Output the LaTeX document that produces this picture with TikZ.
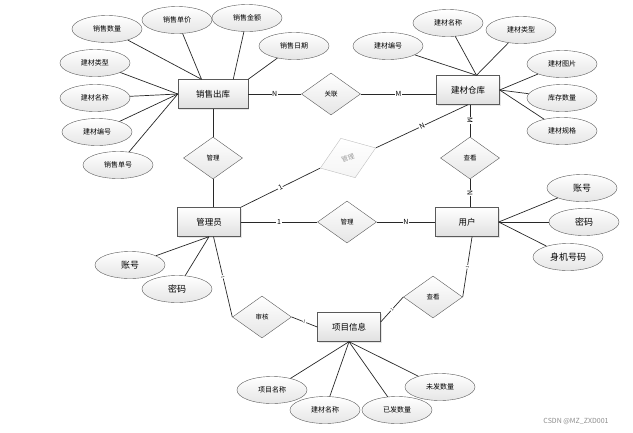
\documentclass[tikz,border=0pt]{standalone}
\usepackage{fontspec}
\setmainfont{Noto Sans CJK SC}
\usepackage{tikz}
\usetikzlibrary{shapes,shadows,calc,positioning}
\definecolor{edgecolor}{RGB}{40,40,40}
\definecolor{boxline}{RGB}{90,90,90}
\tikzstyle{entity}=[rectangle,draw=boxline,top color=white,bottom color=black!12,minimum width=63pt,minimum height=29pt,inner sep=0pt,font=\fontsize{8.5}{9}\selectfont,drop shadow={opacity=0.2,shadow xshift=1pt,shadow yshift=-1pt}]
\tikzstyle{attribute}=[ellipse,draw=boxline,top color=white,bottom color=black!10,minimum width=70pt,minimum height=27pt,inner sep=0pt,font=\fontsize{7}{8}\selectfont]
\tikzstyle{big attribute}=[attribute,font=\fontsize{9}{10}\selectfont]
\tikzstyle{relation}=[diamond,draw=boxline,top color=white,bottom color=black!10,minimum width=59pt,minimum height=42pt,inner sep=0pt,font=\fontsize{6.5}{7}\selectfont]
\tikzstyle{faded relation}=[relation,draw=black!25,top color=white,bottom color=black!4,text=black!40,rotate=20]
\tikzstyle{eredge}=[draw=edgecolor,line width=0.7pt]
\tikzstyle{card}=[fill=white,inner sep=0.6pt,font=\fontsize{7}{7}\selectfont]
\tikzstyle{tiny card}=[card,sloped,font=\fontsize{4}{4}\selectfont]

\begin{document}
\begin{tikzpicture}[x=1pt,y=-1pt]
\useasboundingbox (0,0) rectangle (633,432);

    % entities
    \node[entity,minimum width=70pt] (sale) at (213,94) {销售出库};
    \node[entity] (store) at (468,90) {建材仓库};
    \node[entity] (admin) at (209,222) {管理员};
    \node[entity] (user) at (467,222) {用户};
    \node[entity] (proj) at (349,327) {项目信息};

    % relations
    \node[relation] (link) at (331,94) {关联};
    \node[relation] (manage1) at (213,158) {管理};
    \node[faded relation] (manage2) at (348,158) {管理};
    \node[relation] (manage3) at (347,222) {管理};
    \node[relation] (view1) at (470,158) {查看};
    \node[relation] (audit) at (262,317) {审核};
    \node[relation] (view2) at (433,297) {查看};

    % attributes
    \foreach \name/\txt/\x/\y/\anc in {sa1/销售数量/107/29/128, sa2/销售单价/177/20/128,
            sa3/销售金额/247/18/36, sa4/销售日期/294/46/north east, sa5/建材类型/95/63/west,
            sa6/建材名称/95/98/west, sa7/建材编号/97/132/west, sa8/销售单号/118/165/west} {
        \node[attribute] (\name) at (\x,\y) {\txt};
        \draw[eredge] (\name) -- (sale.\anc);
    }

    \foreach \name/\txt/\x/\y/\anc in {sb1/建材编号/388/46/60, sb2/建材名称/448/23/60,
            sb3/建材类型/521/30/60, sb4/建材图片/562/64/east, sb5/库存数量/562/98/east,
            sb6/建材规格/562/131/east} {
        \node[attribute] (\name) at (\x,\y) {\txt};
        \draw[eredge] (\name) -- (store.\anc);
    }

    \foreach \name/\txt/\x/\y in {ua1/账号/582/188, ua2/密码/584/222, ua3/身机号码/568/257} {
        \node[big attribute] (\name) at (\x,\y) {\txt};
        \draw[eredge] (\name) -- (user.east);
    }

    \foreach \name/\txt/\x/\y in {aa1/账号/130/265, aa2/密码/177/289} {
        \node[big attribute] (\name) at (\x,\y) {\txt};
        \draw[eredge] (\name) -- (admin.south);
    }

    \foreach \name/\txt/\x/\y in {pa1/项目名称/272/390, pa2/建材名称/325/410,
            pa4/未发数量/440/387, pa3/已发数量/397/410} {
        \node[attribute] (\name) at (\x,\y) {\txt};
        \draw[eredge] (\name) -- (proj.south);
    }

    % relationships
    \draw[eredge] (sale.east) -- node[card]{N} (link.west);
    \draw[eredge] (link.east) -- node[card]{M} (link.east -| store.west);
    \draw[eredge] (sale.south) -- (manage1.north);
    \draw[eredge] (manage1.south) -- (manage1.south |- admin.north);
    \draw[eredge] (admin.north east) -- node[card,sloped]{1} (manage2.west);
    \draw[eredge] (manage2.east) -- node[card,sloped]{N} (store.south);
    \draw[eredge] (view1.north |- store.south) -- node[card,sloped]{M} (view1.north);
    \draw[eredge] (view1.south) -- node[card,sloped]{N} (view1.south |- user.north);
    \draw[eredge] (admin.east) -- node[card]{1} (manage3.west);
    \draw[eredge] (manage3.east) -- node[card]{N} (user.west);
    \draw[eredge] (admin.-73) -- node[tiny card]{1} (audit.west);
    \draw[eredge] (audit.east) -- node[tiny card]{1} (proj.west);
    \draw[eredge] (user.-71) -- node[tiny card]{1} (view2.east);
    \draw[eredge] (view2.west) -- node[tiny card]{1} (proj.9);

    \node[text=black!45,font=\fontsize{7}{7}\selectfont] (mark) at (576,421) {CSDN @MZ\_ZXD001};
\end{tikzpicture}
\end{document}
